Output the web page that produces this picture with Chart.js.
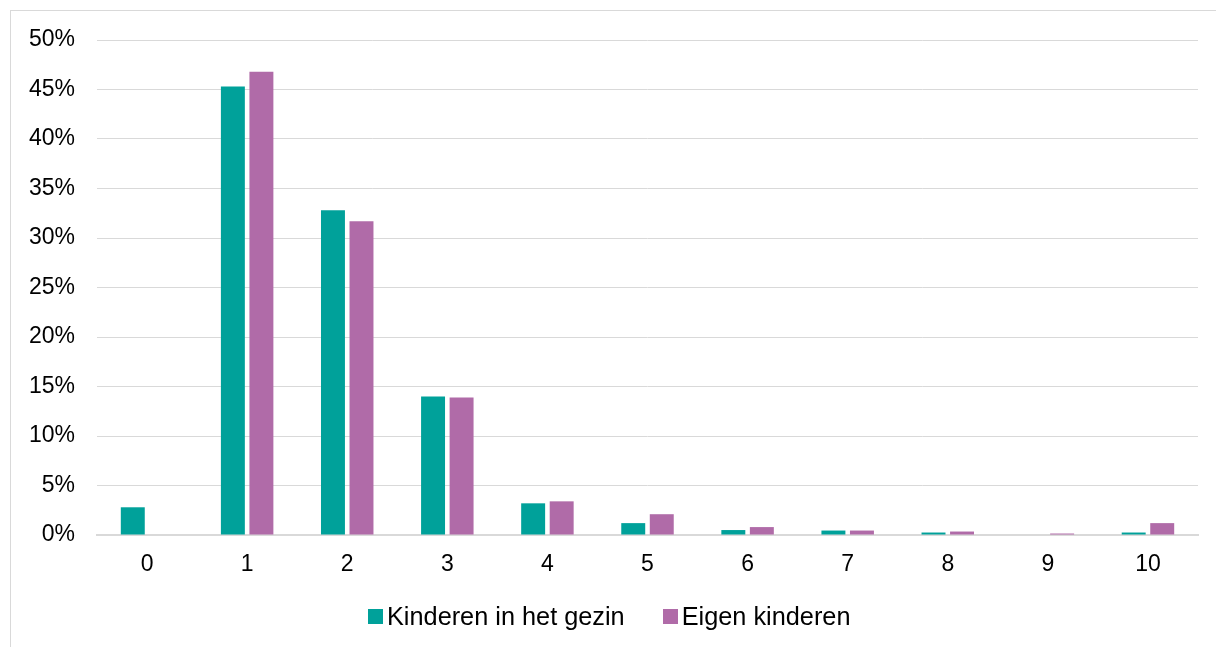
<!DOCTYPE html>
<html>
<head>
<meta charset="utf-8">
<script src="https://cdn.jsdelivr.net/npm/chart.js@4.4.1/dist/chart.umd.min.js"></script>
<style>
  html, body { margin: 0; padding: 0; background: #fff; overflow: hidden; }
  #kader { position: absolute; left: 10px; top: 10px; width: 1220px; height: 660px;
           border: 1px solid #d9d9d9; box-sizing: border-box; }
  #wrap { position: absolute; left: 0; top: 0; width: 1216px; height: 647px; }
  #legenda { position: absolute; left: 368px; top: 601px; height: 30px;
             display: flex; align-items: center; white-space: nowrap;
             font-family: 'Liberation Sans', Arial, sans-serif; font-size: 25.3px; color: #000; }
  .item { display: flex; align-items: center; margin-right: 38px; line-height: 30px; }
  .blokje { width: 15px; height: 15px; margin-right: 4px; }
</style>
</head>
<body>
<div id="kader"></div>
<div id="wrap"><canvas id="grafiek"></canvas></div>
<div id="legenda"></div>
<script>
// aantal kinderen per huishouden, aandeel in %
const categorieen = ['0', '1', '2', '3', '4', '5', '6', '7', '8', '9', '10'];
const kinderenInGezin = [2.8, 45.3, 32.8, 14.0, 3.2, 1.2, 0.5, 0.45, 0.25, 0, 0.25];
const eigenKinderen   = [0, 46.8, 31.7, 13.9, 3.4, 2.1, 0.8, 0.45, 0.35, 0.15, 1.2];
const yTicks = [0, 5, 10, 15, 20, 25, 30, 35, 40, 45, 50];

const FONT = 'Liberation Sans, Arial, sans-serif';

const grafiek = new Chart(document.getElementById('grafiek').getContext('2d'), {
    type: 'bar',
    data: {
        labels: categorieen,
        datasets: [
            { label: 'Kinderen in het gezin', data: kinderenInGezin, backgroundColor: '#00A19A' },
            { label: 'Eigen kinderen',        data: eigenKinderen,   backgroundColor: '#B06BA8' }
        ]
    },
    options: {
        responsive: true,
        maintainAspectRatio: false,
        animation: false,
        categoryPercentage: 0.57,
        barPercentage: 0.84,
        layout: { padding: { left: 0, right: 18, top: 40, bottom: 0 } },
        plugins: {
            tooltip: { enabled: false },
            legend: { display: false }
        },
        scales: {
            x: {
                afterFit: (s) => { s.height = 112; },  // ruimte onder de as voor labels + legenda
                grid: { display: false },
                border: { display: true, color: '#d9d9d9', width: 2 },
                ticks: { color: '#000', font: { family: FONT, size: 23 }, padding: 8 }
            },
            y: {
                min: 0,
                max: 50,
                afterBuildTicks: (s) => { s.ticks = yTicks.map(v => ({ value: v })); },
                afterFit: (s) => { s.width = 97; },
                grid: { color: '#d9d9d9', lineWidth: 1, drawTicks: false },
                border: { display: false },
                ticks: {
                    color: '#000',
                    font: { family: FONT, size: 23 },
                    padding: 22,
                    callback: (v) => v + '%'
                }
            }
        }
    }
});

// legenda in HTML, opgebouwd uit de datasets
const legenda = document.getElementById('legenda');
grafiek.data.datasets.forEach(ds => {
    legenda.innerHTML += `
        <div class="item">
            <span class="blokje" style="background:${ds.backgroundColor};"></span>
            <span>${ds.label}</span>
        </div>`;
});
</script>
</body>
</html>
